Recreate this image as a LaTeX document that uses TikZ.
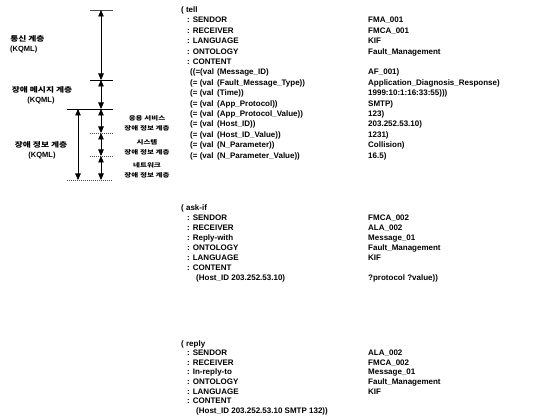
\documentclass[tikz,border=0pt]{standalone}
\usepackage{fontspec}
\setmainfont{Liberation Sans}
\newfontfamily\kr{Noto Sans CJK KR}
\usetikzlibrary{arrows.meta}
\begin{document}
\begin{tikzpicture}[x=1pt,y=-1pt,
  txt/.style={anchor=base west,inner sep=0pt,font=\fontsize{8}{9}\selectfont\bfseries},
  krbig/.style={anchor=center,inner sep=0pt,xscale=1.25,transform shape,font=\kr\fontsize{7}{8}\selectfont\bfseries},
  krsmall/.style={anchor=center,inner sep=0pt,xscale=1.3,transform shape,font=\kr\fontsize{5.8}{6}\selectfont\bfseries},
  kq/.style={anchor=center,inner sep=0pt,font=\fontsize{7.5}{8}\selectfont\bfseries},
  dimarr/.style={{Triangle[width=5.5pt,length=6.5pt]}-{Triangle[width=5.5pt,length=6.5pt]},line width=0.9pt},
  tick/.style={line width=0.9pt},
  dtick/.style={line width=0.8pt,dash pattern=on 1pt off 1pt,black!70}]
\useasboundingbox (0,0) rectangle (535,419);
% ---- left layer diagram ----
\coordinate (a0) at (101,10);
\coordinate (a1) at (101,80);
\coordinate (a2) at (101,109);
\coordinate (a3) at (101,133);
\coordinate (a4) at (101,156);
\coordinate (a5) at (101,180);
\coordinate (b2) at (78,109);
\coordinate (b5) at (78,180);
\draw[tick,black!70] (90,10) -- (113,10);
\draw[tick] (90,80) -- (113,80);
\draw[tick] (67,109) -- (113,109);
\draw[dtick] (90,133) -- (113,133);
\draw[dtick] (90,156) -- (113,156);
\draw[dtick] (67,180) -- (113,180);
\draw[dimarr] (a0) -- (a1);
\draw[dimarr] (a1) -- (a2);
\draw[dimarr] (a2) -- (a3);
\draw[dimarr] (a3) -- (a4);
\draw[dimarr] (a4) -- (a5);
\draw[dimarr,line width=0.6pt] (b2) -- (b5);
\node[krbig,anchor=west] (l1) at (10,39) {통신 계층};
\node[kq,anchor=west] (l1k) at (10,50) {(KQML)};
\node[krbig] (l2) at (42,90) {장애 메시지 계층};
\node[kq] (l2k) at (41,101) {(KQML)};
\node[krbig] (l3) at (41,145) {장애 정보 계층};
\node[kq] (l3k) at (42,156) {(KQML)};
\node[krsmall] (s1) at (147,118) {응용 서비스};
\node[krsmall] (s1b) at (147,128) {장애 정보 계층};
\node[krsmall] (s2) at (147,142) {시스템};
\node[krsmall] (s2b) at (147,152) {장애 정보 계층};
\node[krsmall] (s3) at (147,165) {네트워크};
\node[krsmall] (s3b) at (147,175) {장애 정보 계층};
% ---- tell ----
\def\xa{181}\def\xb{187}\def\xc{190}\def\xd{217}\def\xv{368}
\node[txt] (t0) at (\xa,12.5) {( tell};
\node[txt] (t1) at (\xb,22.9) {: SENDOR};        \node[txt] (v1) at (\xv,22.9) {FMA\_001};
\node[txt] (t2) at (\xb,33.3) {: RECEIVER};      \node[txt] (v2) at (\xv,33.3) {FMCA\_001};
\node[txt] (t3) at (\xb,43.7) {: LANGUAGE};      \node[txt] (v3) at (\xv,43.7) {KIF};
\node[txt] (t4) at (\xb,54.1) {: ONTOLOGY};      \node[txt] (v4) at (\xv,54.1) {Fault\_Management};
\node[txt] (t5) at (\xb,64.5) {: CONTENT};
\node[txt] (c1) at (\xc,74.9) {((=(val};   \node[txt] (d1) at (\xd,74.9) {(Message\_ID)};          \node[txt] (e1) at (\xv,74.9) {AF\_001)};
\node[txt] (c2) at (\xc,85.3) {(= (val};   \node[txt] (d2) at (\xd,85.3) {(Fault\_Message\_Type))}; \node[txt] (e2) at (\xv,85.3) {Application\_Diagnosis\_Response)};
\node[txt] (c3) at (\xc,95.7) {(= (val};   \node[txt] (d3) at (\xd,95.7) {(Time))};                \node[txt] (e3) at (\xv,95.7) {1999:10:1:16:33:55)))};
\node[txt] (c4) at (\xc,106.1) {(= (val};  \node[txt] (d4) at (\xd,106.1) {(App\_Protocol))};       \node[txt] (e4) at (\xv,106.1) {SMTP)};
\node[txt] (c5) at (\xc,116.5) {(= (val};  \node[txt] (d5) at (\xd,116.5) {(App\_Protocol\_Value))}; \node[txt] (e5) at (\xv,116.5) {123)};
\node[txt] (c6) at (\xc,126.9) {(= (val};  \node[txt] (d6) at (\xd,126.9) {(Host\_ID))};            \node[txt] (e6) at (\xv,126.9) {203.252.53.10)};
\node[txt] (c7) at (\xc,137.3) {(= (val};  \node[txt] (d7) at (\xd,137.3) {(Host\_ID\_Value))};     \node[txt] (e7) at (\xv,137.3) {1231)};
\node[txt] (c8) at (\xc,147.7) {(= (val};  \node[txt] (d8) at (\xd,147.7) {(N\_Parameter))};        \node[txt] (e8) at (\xv,147.7) {Collision)};
\node[txt] (c9) at (\xc,158.1) {(= (val};  \node[txt] (d9) at (\xd,158.1) {(N\_Parameter\_Value))}; \node[txt] (e9) at (\xv,158.1) {16.5)};
% ---- ask-if ----
\node[txt] (q0) at (\xa,211) {( ask-if};
\node[txt] (q1) at (\xb,221) {: SENDOR};      \node[txt] (w1) at (\xv,221) {FMCA\_002};
\node[txt] (q2) at (\xb,231) {: RECEIVER};    \node[txt] (w2) at (\xv,231) {ALA\_002};
\node[txt] (q3) at (\xb,241) {: Reply-with};  \node[txt] (w3) at (\xv,241) {Message\_01};
\node[txt] (q4) at (\xb,251) {: ONTOLOGY};    \node[txt] (w4) at (\xv,251) {Fault\_Management};
\node[txt] (q5) at (\xb,261) {: LANGUAGE};    \node[txt] (w5) at (\xv,261) {KIF};
\node[txt] (q6) at (\xb,271) {: CONTENT};
\node[txt] (q7) at (196,281) {(Host\_ID 203.252.53.10)}; \node[txt] (w7) at (\xv,281) {?protocol ?value))};
% ---- reply ----
\node[txt] (r0) at (\xa,346) {( reply};
\node[txt] (r1) at (\xb,355.6) {: SENDOR};       \node[txt] (u1) at (\xv,355.6) {ALA\_002};
\node[txt] (r2) at (\xb,365.2) {: RECEIVER};     \node[txt] (u2) at (\xv,365.2) {FMCA\_002};
\node[txt] (r3) at (\xb,374.8) {: In-reply-to};  \node[txt] (u3) at (\xv,374.8) {Message\_01};
\node[txt] (r4) at (\xb,384.4) {: ONTOLOGY};     \node[txt] (u4) at (\xv,384.4) {Fault\_Management};
\node[txt] (r5) at (\xb,394) {: LANGUAGE};       \node[txt] (u5) at (\xv,394) {KIF};
\node[txt] (r6) at (\xb,403.6) {: CONTENT};
\node[txt] (r7) at (196,413.2) {(Host\_ID 203.252.53.10 SMTP 132))};
\end{tikzpicture}
\end{document}
